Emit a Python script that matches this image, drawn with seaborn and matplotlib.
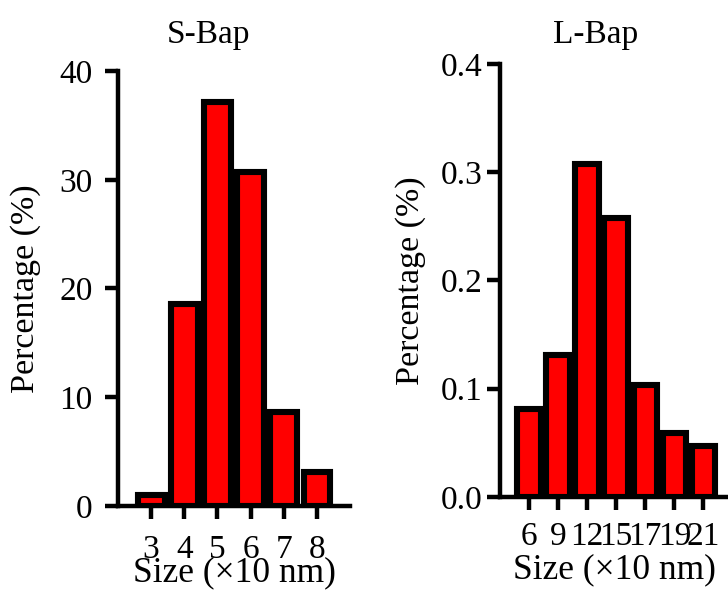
import numpy as np
import pandas as pd
import seaborn as sns
import matplotlib
matplotlib.use('Agg')
import matplotlib.pyplot as plt

# Datos
tallas_s = ['3', '4', '5', '6', '7', '8']
porcentaje_s = [1.0, 18.6, 37.2, 30.7, 8.6, 3.1]

tallas_l = ['6', '9', '12', '15', '17', '19', '21']
porcentaje_l = [0.081, 0.131, 0.308, 0.258, 0.103, 0.059, 0.047]

sns.set_style('ticks')
plt.rcParams['font.family'] = ['Liberation Serif', 'DejaVu Serif']
for k in ['text.color', 'axes.labelcolor', 'xtick.color', 'ytick.color', 'axes.edgecolor']:
    plt.rcParams[k] = 'black'


def panel(ax, tallas, valores, titulo, yticks, yfmt, xlim, title_x, title_pad,
          ypad, ylabelpad, xpad, xlabelpad):
    df = pd.DataFrame({'Talla': tallas, 'Porcentaje': valores})
    sns.barplot(data=df, x='Talla', y='Porcentaje', ax=ax, color='#ff0000',
                saturation=1, width=0.81, edgecolor='black', linewidth=4.4)
    ax.set_xlim(*xlim)
    ax.set_ylim(yticks[0], yticks[-1])
    ax.set_yticks(yticks)
    ax.set_yticklabels([yfmt.format(v) for v in yticks])
    ax.set_xlabel('Size (×10 nm)', fontsize=25.5, labelpad=xlabelpad)
    ax.set_ylabel('Percentage (%)', fontsize=24.5, labelpad=ylabelpad)
    ax.set_title(titulo, fontsize=24, x=title_x, pad=title_pad)
    sns.despine(ax=ax)
    for s in ['left', 'bottom']:
        ax.spines[s].set_linewidth(3.2)
        ax.spines[s].set_zorder(5)
    ax.tick_params(axis='both', width=3.2, length=9.4, labelsize=24)
    ax.tick_params(axis='y', pad=ypad)
    ax.tick_params(axis='x', pad=xpad)


fig = plt.figure(figsize=(7.28, 5.93), dpi=100)

ax1 = fig.add_axes([0.162, 0.147, 0.319, 0.733])
panel(ax1, tallas_s, porcentaje_s, 'S-Bap', [0, 10, 20, 30, 40], '{:d}',
      (-1, 6), 0.39, 20, 9, 13, 11, -6)

ax2 = fig.add_axes([0.687, 0.162, 0.313, 0.730])
panel(ax2, tallas_l, porcentaje_l, 'L-Bap', [0.0, 0.1, 0.2, 0.3, 0.4], '{:.1f}',
      (-1, 6.85), 0.42, 15, 3, 11, 8, 1)

fig.savefig('out.png', dpi=100)
